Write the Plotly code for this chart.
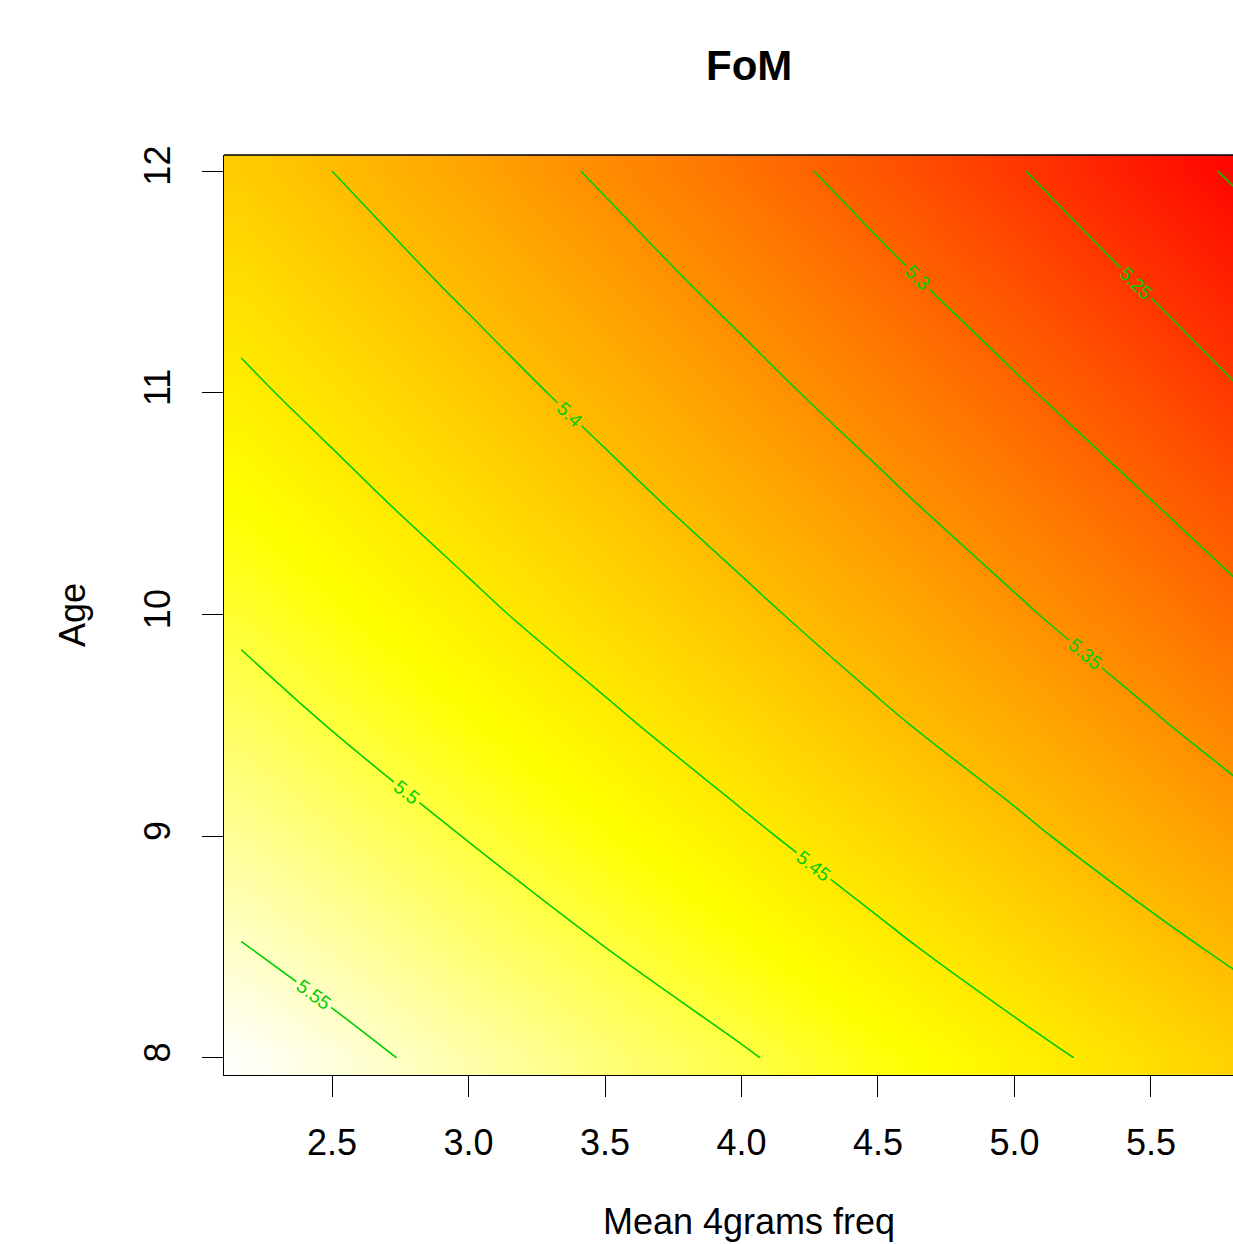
import plotly.graph_objects as go

# Grid nodes
x_nodes = [2.167, 2.5, 3.0, 3.5, 4.0, 4.5, 5.0, 5.5, 5.888]
y_nodes = [8.0, 8.5, 9.0, 9.5, 10.0, 10.5, 11.0, 11.5, 12.0]

# Fitted FoM values at the grid nodes, one row per Age value (estimated from the contours)
fom_age_8_0 = [5.570, 5.559, 5.540, 5.521, 5.503, 5.481, 5.460, 5.437, 5.419]
fom_age_8_5 = [5.551, 5.539, 5.519, 5.500, 5.479, 5.457, 5.433, 5.409, 5.390]
fom_age_9_0 = [5.532, 5.519, 5.499, 5.478, 5.456, 5.432, 5.407, 5.381, 5.361]
fom_age_9_5 = [5.513, 5.499, 5.478, 5.456, 5.432, 5.406, 5.381, 5.354, 5.332]
fom_age_10_0 = [5.494, 5.480, 5.457, 5.433, 5.408, 5.382, 5.355, 5.327, 5.304]
fom_age_10_5 = [5.475, 5.460, 5.436, 5.411, 5.385, 5.358, 5.330, 5.301, 5.276]
fom_age_11_0 = [5.456, 5.440, 5.415, 5.389, 5.362, 5.334, 5.305, 5.274, 5.247]
fom_age_11_5 = [5.437, 5.420, 5.394, 5.367, 5.339, 5.310, 5.279, 5.246, 5.219]
fom_age_12_0 = [5.417, 5.400, 5.373, 5.345, 5.317, 5.285, 5.253, 5.217, 5.190]

z_rows = [fom_age_8_0, fom_age_8_5, fom_age_9_0, fom_age_9_5, fom_age_10_0,
          fom_age_10_5, fom_age_11_0, fom_age_11_5, fom_age_12_0]

contour_start, contour_end, contour_step = 5.2, 5.55, 0.05

x_ticks = [2.5, 3.0, 3.5, 4.0, 4.5, 5.0, 5.5]
x_tick_text = ["2.5", "3.0", "3.5", "4.0", "4.5", "5.0", "5.5"]
y_ticks = [8, 9, 10, 11, 12]
y_tick_text = ["8", "9", "10", "11", "12"]

# R heat.colors(100)
heat_scale = [[0.0, "rgb(255,0,0)"], [74 / 99, "rgb(255,255,0)"],
              [75 / 99, "rgb(255,255,5)"], [1.0, "rgb(255,255,250)"]]

FONT = "Liberation Sans, Arial, Helvetica, sans-serif"
GREEN = "#00CD00"

fig = go.Figure()
fig.add_trace(go.Heatmap(
    x=x_nodes, y=y_nodes, z=z_rows, colorscale=heat_scale,
    zmin=5.190, zmax=5.570, zsmooth="best", showscale=False, hoverinfo="skip"))
fig.add_trace(go.Contour(
    x=x_nodes, y=y_nodes, z=z_rows,
    autocontour=False,
    contours=dict(start=contour_start, end=contour_end, size=contour_step,
                  coloring="none", showlabels=True, labelformat=".3~g",
                  labelfont=dict(color=GREEN, size=19, family=FONT)),
    line=dict(color=GREEN, width=1.6, smoothing=1.0),
    showscale=False, hoverinfo="skip"))

W, H = 1233, 1244
L, R_, T, B = 224, 0, 155, 169
pw, ph = W - L - R_, H - T - B

fig.update_layout(
    width=W, height=H,
    margin=dict(l=L, r=R_, t=T, b=B, pad=0),
    paper_bgcolor="white", plot_bgcolor="white",
    showlegend=False,
    font=dict(family=FONT, color="black", size=36),
    xaxis=dict(range=[2.1044, 5.8004], tickvals=x_ticks, ticktext=x_tick_text,
               ticks="outside", ticklen=21, tickwidth=1.3, tickcolor="black",
               showline=True, linecolor="black", linewidth=1.3, mirror=False,
               showgrid=False, zeroline=False, tickfont=dict(size=36),
               ticklabelstandoff=15),
    yaxis=dict(range=[7.9233, 12.0722], tickvals=y_ticks, ticktext=y_tick_text,
               ticks="outside", ticklen=21, tickwidth=1.3, tickcolor="black",
               showline=True, linecolor="black", linewidth=1.3, mirror=False,
               showgrid=False, zeroline=False, tickfont=dict(size=36),
               tickangle=-90, ticklabelstandoff=17),
    shapes=[dict(type="line", xref="paper", yref="paper", x0=0, x1=1, y0=1, y1=1,
                 line=dict(color="black", width=1.3))],
    annotations=[
        dict(text="<b>FoM</b>", xref="paper", yref="paper",
             x=(749 - L) / pw, y=(1075 - 66) / ph, showarrow=False,
             xanchor="center", yanchor="middle", font=dict(size=42, family=FONT)),
        dict(text="Mean 4grams freq", xref="paper", yref="paper",
             x=(749 - L) / pw, y=(1075 - 1221) / ph, showarrow=False,
             xanchor="center", yanchor="middle", font=dict(size=36, family=FONT)),
        dict(text="Age", xref="paper", yref="paper",
             x=(72 - L) / pw, y=0.5, showarrow=False, textangle=-90,
             xanchor="center", yanchor="middle", font=dict(size=36, family=FONT)),
    ],
)

fig.write_html("out.html")
